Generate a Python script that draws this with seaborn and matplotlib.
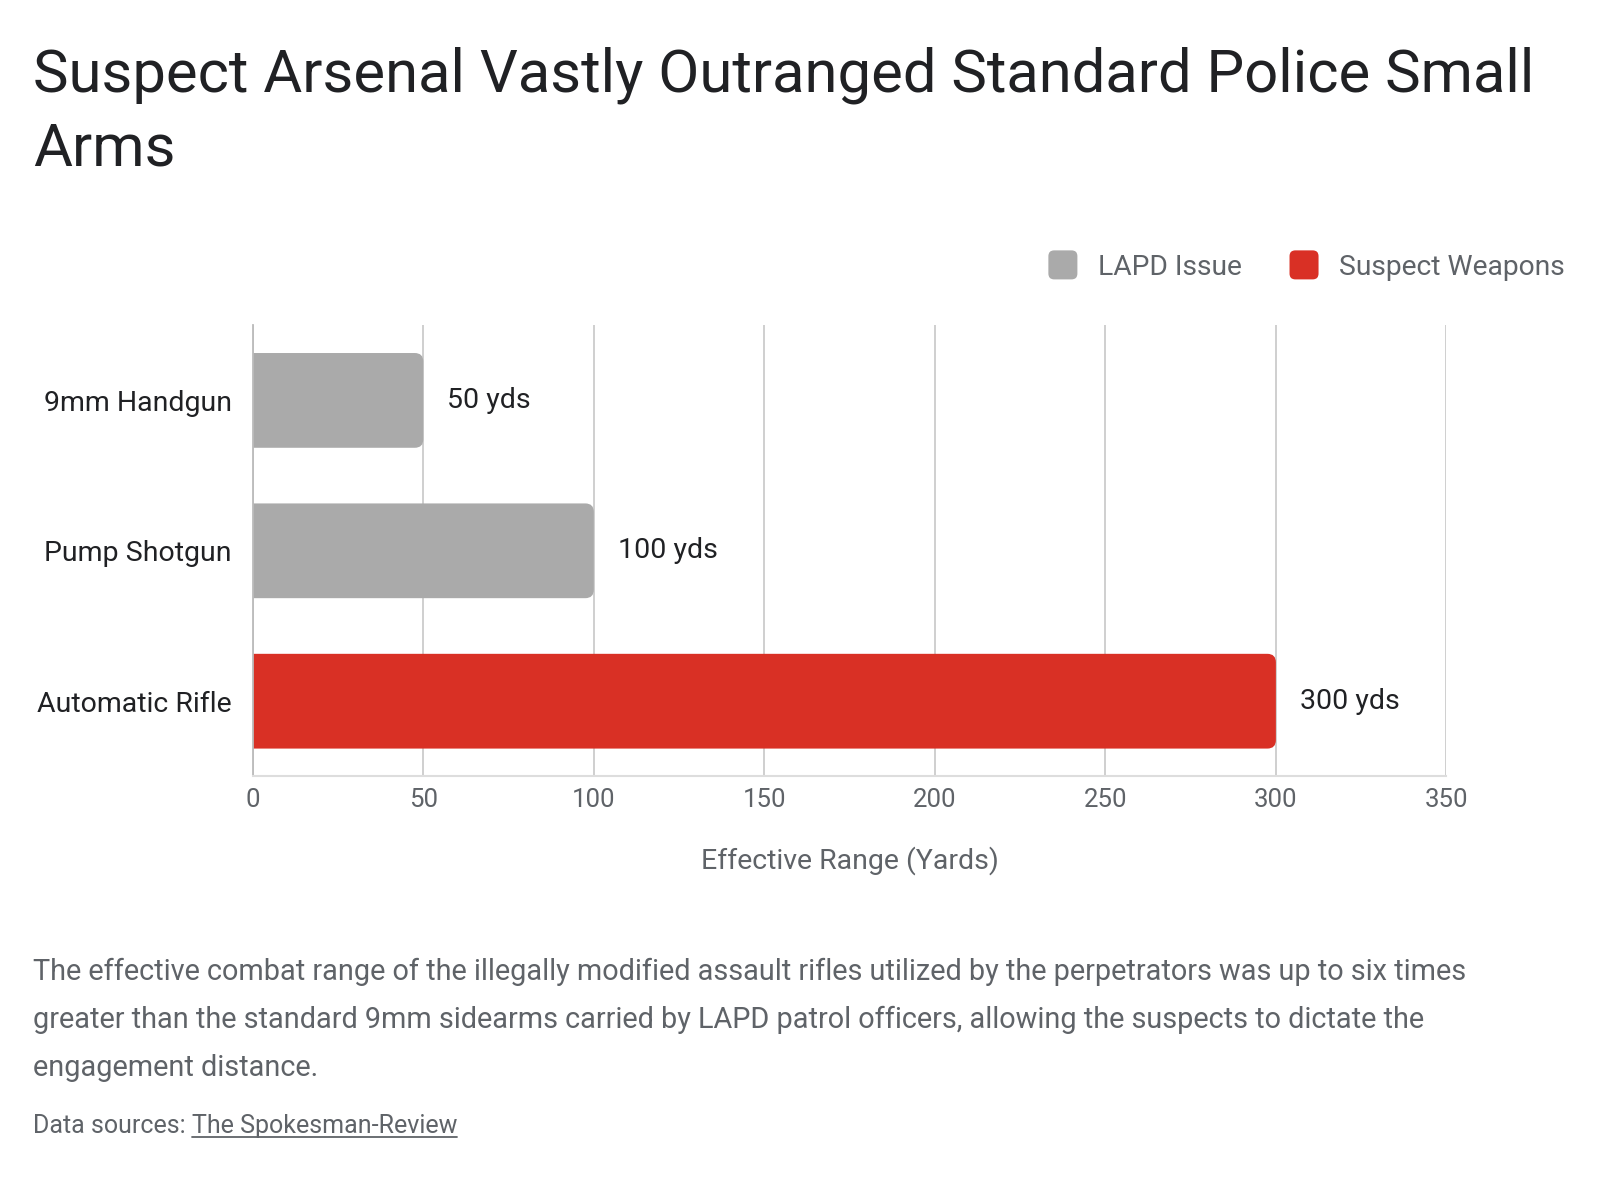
import numpy as np
import pandas as pd
import seaborn as sns
import matplotlib.pyplot as plt
from matplotlib.patches import FancyBboxPatch, Patch
from matplotlib.legend_handler import HandlerPatch

# data
weapons = ["9mm Handgun", "Pump Shotgun", "Automatic Rifle"]
ranges = [50, 100, 300]
groups = ["LAPD Issue", "LAPD Issue", "Suspect Weapons"]
x_ticks = [0, 50, 100, 150, 200, 250, 300, 350]

colors = {"LAPD Issue": "#aaaaaa", "Suspect Weapons": "#d93025"}
df = pd.DataFrame({"weapon": weapons, "range": ranges, "group": groups})

sns.set_style("white")
plt.rcParams['font.family'] = ['Roboto', 'DejaVu Sans']

fig = plt.figure(figsize=(16, 12), dpi=100)
ax = fig.add_axes([0.158, 0.353, 0.746, 0.376])

sns.barplot(data=df, x="range", y="weapon", hue="group", palette=colors,
            dodge=False, width=0.63, legend=False, ax=ax, saturation=1)

# swap square bars for rounded ones (left edge hidden behind the axis)
asp = (350 / 1194) / (3 / 451)  # data-units x per y
for p in list(ax.patches):
    w, h = p.get_width(), p.get_height()
    if w <= 0:
        continue
    x0, y0 = p.get_x(), p.get_y()
    rb = FancyBboxPatch((x0 - 10, y0), w + 10, h,
                        boxstyle="round,pad=0,rounding_size=2.5",
                        mutation_aspect=1 / asp,
                        facecolor=p.get_facecolor(), edgecolor="none",
                        zorder=2, clip_on=True)
    ax.add_patch(rb)
    p.set_visible(False)
    ax.text(x0 + w + 7, y0 + h / 2, f"{int(w)} yds", va="center", ha="left",
            fontsize=20.5, color="#202124")

ax.set_xlim(0, 350)
ax.set_ylim(2.5, -0.5)
ax.set_xticks(x_ticks)
ax.set_xticklabels([str(t) for t in x_ticks])
ax.grid(axis="x", color="#cccccc", linewidth=1.3, zorder=0)
ax.set_axisbelow(True)
for s in ["top", "right"]:
    ax.spines[s].set_visible(False)
ax.spines["left"].set_color("#bbbbbb")
ax.spines["left"].set_linewidth(1.3)
ax.spines["bottom"].set_color("#dddddd")
ax.spines["bottom"].set_linewidth(1.5)
ax.tick_params(axis="y", length=0, pad=15, labelsize=20.5, labelcolor="#202124")
ax.tick_params(axis="x", length=0, pad=8, labelsize=18.5, labelcolor="#5f6368")
ax.set_ylabel("")
ax.set_xlabel("Effective Range (Yards)", fontsize=20.5, color="#5f6368", labelpad=25)


def rounded_square(legend, orig_handle, xdescent, ydescent, width, height, fontsize):
    s = min(width, height) * 1.15
    return FancyBboxPatch((-xdescent + (width - s) / 2, -ydescent + (height - s) / 2), s, s,
                          boxstyle="round,pad=0,rounding_size=%f" % (s * 0.2))


handles = [Patch(facecolor=colors[g], edgecolor="none", label=g) for g in colors]
fig.legend(handles=handles, loc="center right", bbox_to_anchor=(0.994, 0.778),
           ncol=2, frameon=False, fontsize=20.3, labelcolor="#5f6368",
           handlelength=1.0, handleheight=1.0, handletextpad=0.75, columnspacing=1.7,
           handler_map={Patch: HandlerPatch(patch_func=rounded_square)})

fig.text(0.0206, 1 - 92 / 1200, "Suspect Arsenal Vastly Outranged Standard Police Small",
         fontsize=43, color="#202124", va="baseline", ha="left")
fig.text(0.0206, 1 - 166 / 1200, "Arms",
         fontsize=43, color="#202124", va="baseline", ha="left")

sub = ("The effective combat range of the illegally modified assault rifles utilized by the perpetrators was up to six times\n"
       "greater than the standard 9mm sidearms carried by LAPD patrol officers, allowing the suspects to dictate the\n"
       "engagement distance.")
fig.text(0.0206, 1 - 958 / 1200, sub, fontsize=20.8, color="#5f6368",
         va="top", ha="left", linespacing=1.9)

base_y = 1 - 1133 / 1200
t1 = fig.text(0.0206, base_y, "Data sources: ", fontsize=18,
              color="#5f6368", va="baseline", ha="left")
fig.canvas.draw()
bb = t1.get_window_extent()
t2 = fig.text(bb.x1 / 1600, base_y, "The Spokesman-Review", fontsize=18,
              color="#5f6368", va="baseline", ha="left")
bb2 = t2.get_window_extent()
uy = base_y - 4 / 1200
fig.add_artist(plt.Line2D([bb2.x0 / 1600, bb2.x1 / 1600], [uy, uy],
                          color="#5f6368", linewidth=1.3))

fig.savefig("out.png", dpi=100, facecolor="white")
